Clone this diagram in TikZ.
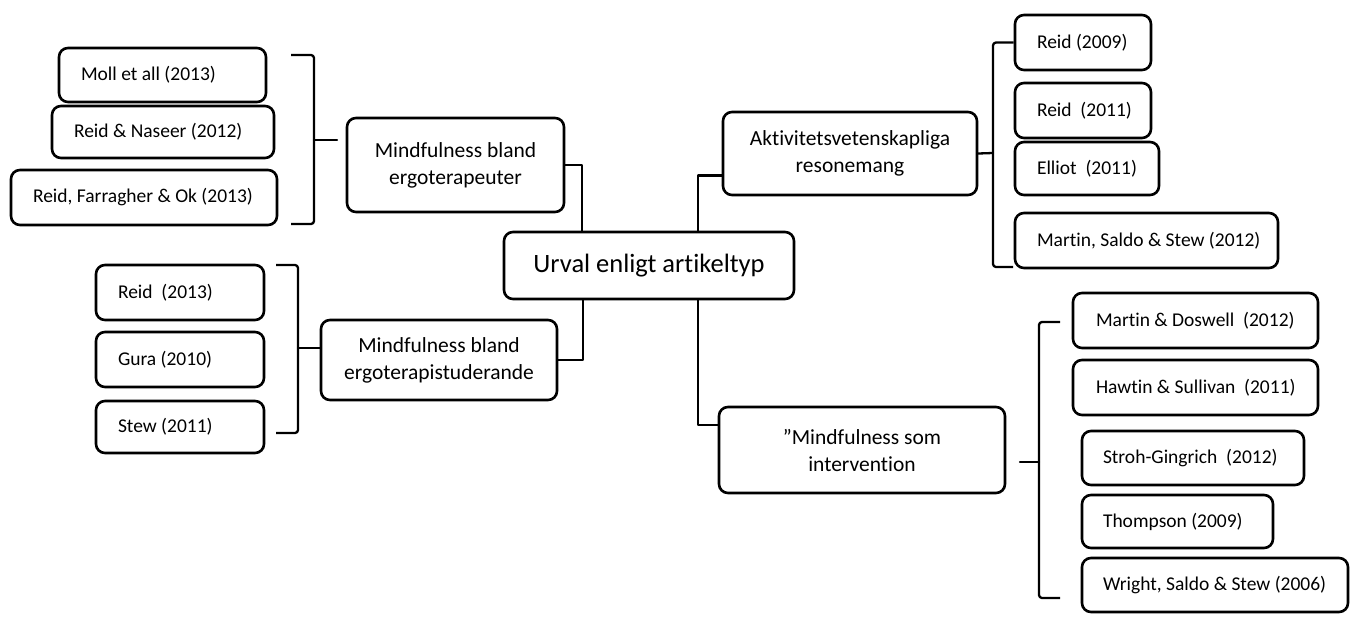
\documentclass[tikz,border=0pt]{standalone}
\usepackage{fontspec}
\setmainfont{Carlito}[Ligatures=NoCommon]
\newcommand\lefttext[2]{\makebox[#1][l]{#2}}
\begin{document}
\begin{tikzpicture}[x=1pt,y=-1pt,
  box/.style={draw=black, line width=2.6pt, rounded corners=9pt, align=center, inner sep=0pt, fill=white},
  small/.style={box, font=\fontsize{19.5}{23}\selectfont},
  mid/.style={box, font=\fontsize{21.5}{27}\selectfont},
  big/.style={box, font=\fontsize{26.5}{30}\selectfont},
  conn/.style={draw=black, line width=2.3pt, line join=round, line cap=round},
  brace/.style={draw=black, line width=2.3pt, line join=round, rounded corners=3pt}]
\useasboundingbox (0,0) rectangle (1354,618);

% centre
\node[big, minimum width=290pt, minimum height=67pt] (center) at (649,265.5) {Urval enligt artikeltyp};

% left top group
\node[small, minimum width=207pt, minimum height=54pt] (moll) at (162.5,75) {\lefttext{163pt}{Moll et all (2013)}};
\node[small, minimum width=222pt, minimum height=52pt] (naseer) at (163,132) {\lefttext{178pt}{Reid \& Naseer (2012)}};
\node[small, minimum width=266pt, minimum height=55pt] (farr) at (144,197.5) {\lefttext{222pt}{Reid, Farragher \& Ok (2013)}};
\node[mid, minimum width=217pt, minimum height=94pt] (ergoA) at (455.5,165) {Mindfulness bland\\ergoterapeuter};

% left bottom group
\node[small, minimum width=168pt, minimum height=55pt] (reidC) at (180,292.5) {\lefttext{124pt}{Reid\ \ (2013)}};
\node[small, minimum width=168pt, minimum height=55pt] (gura) at (180,359.5) {\lefttext{124pt}{Gura (2010)}};
\node[small, minimum width=168pt, minimum height=52pt] (stew) at (180,427) {\lefttext{124pt}{Stew (2011)}};
\node[mid, minimum width=236pt, minimum height=80pt] (ergoB) at (439,360) {Mindfulness bland\\ergoterapistuderande};

% right top group
\node[mid, minimum width=254pt, minimum height=83pt] (akt) at (850,153.5) {Aktivitetsvetenskapliga\\resonemang};
\node[small, minimum width=136pt, minimum height=55pt] (reidA) at (1083,42.5) {\lefttext{92pt}{Reid (2009)}};
\node[small, minimum width=136pt, minimum height=55pt] (reidB) at (1083,110.5) {\lefttext{92pt}{Reid\ \ (2011)}};
\node[small, minimum width=144pt, minimum height=53pt] (elliot) at (1087,168.5) {\lefttext{100pt}{Elliot\ \ (2011)}};
\node[small, minimum width=263pt, minimum height=55pt] (martinA) at (1146.5,240.5) {\lefttext{219pt}{Martin, Saldo \& Stew (2012)}};

% right bottom group
\node[mid, minimum width=286pt, minimum height=86pt] (mint) at (862,450) {”Mindfulness som\\intervention};
\node[small, minimum width=245pt, minimum height=55pt] (doswell) at (1195.5,320.5) {\lefttext{199pt}{Martin \& Doswell\ \ (2012)}};
\node[small, minimum width=245pt, minimum height=55pt] (hawtin) at (1195.5,387.5) {\lefttext{199pt}{Hawtin \& Sullivan\ \ (2011)}};
\node[small, minimum width=222pt, minimum height=54pt] (stroh) at (1193,458) {\lefttext{180pt}{Stroh-Gingrich\ \ (2012)}};
\node[small, minimum width=191pt, minimum height=53pt] (thomp) at (1177.5,521.5) {\lefttext{149pt}{Thompson (2009)}};
\node[small, minimum width=266pt, minimum height=54pt] (wright) at (1215,585) {\lefttext{224pt}{Wright, Saldo \& Stew (2006)}};

% connectors from the centre
\draw[conn] (ergoA.east) -| ([xshift=79pt]center.north west);
\draw[conn] (ergoB.east) -| ([xshift=80pt]center.south west);
\draw[conn] ([xshift=195pt]center.north west) |- ([yshift=-22pt]akt.west);
\draw[conn] ([xshift=195pt]center.south west) |- ([yshift=25pt]mint.west);

% brackets
\coordinate (b1t) at (291,55);  \coordinate (b1b) at (291,224); \coordinate (b1tip) at (337,140);
\draw[brace] (b1t) -- (314,55) -- (314,224) -- (b1b);
\draw[conn] (314,140) -- (b1tip);

\coordinate (b2t) at (276,265); \coordinate (b2b) at (276,433); \coordinate (b2tip) at (320,348);
\draw[brace] (b2t) -- (298,265) -- (298,433) -- (b2b);
\draw[conn] (298,348) -- (b2tip);

\draw[brace] (reidA.west) -- (993,42.5) -- (993,267) -- (1013,267);
\draw[conn] (993,153) -- (akt.east);

\coordinate (b4t) at (1060,322); \coordinate (b4b) at (1060,598); \coordinate (b4tip) at (1020,462);
\draw[brace] (b4t) -- (1039,322) -- (1039,598) -- (b4b);
\draw[conn] (1039,462) -- (b4tip);
\end{tikzpicture}
\end{document}
